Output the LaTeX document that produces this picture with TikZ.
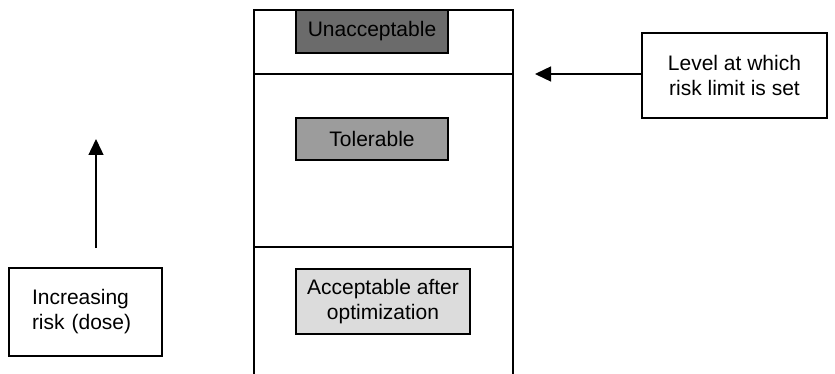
\documentclass[tikz,border=0pt]{standalone}
\usepackage{fontspec}
\setmainfont{Liberation Sans}
\usetikzlibrary{arrows.meta}
\definecolor{darkfill}{HTML}{6B6B6B}
\definecolor{midfill}{HTML}{9C9C9C}
\definecolor{lightfill}{HTML}{DCDCDC}
\begin{document}
\begin{tikzpicture}[x=1pt,y=-1pt,
  line width=1.4pt,
  every node/.style={font=\fontsize{21}{25}\selectfont},
  band/.style={draw, rectangle, inner sep=0pt, align=center},
  note/.style={draw, rectangle, inner sep=0pt},
  pointer/.style={-{Triangle[length=16pt,width=15pt]}, line width=1.4pt}]
  \useasboundingbox (0,0) rectangle (835,374);

  % the risk column and its band boundaries
  \draw (254,375) -- (254,10) -- (513,10) -- (513,375);
  \draw (254,74) -- (513,74);
  \draw (254,247) -- (513,247);

  % band labels
  \node[band, fill=darkfill, minimum width=152pt, minimum height=43pt] (unacc) at (372,31.5) {Unacceptable};
  \node[band, fill=midfill, minimum width=152pt, minimum height=42pt] (toler) at (372,139) {Tolerable};
  \node[band, fill=lightfill, minimum width=174pt, minimum height=65pt] (accept) at (383,301.5) {Acceptable after\\optimization};

  % explanatory boxes
  \node[note, align=center, minimum width=185pt, minimum height=85pt] (limit) at (734.5,75.5) {Level at which\\risk limit is set};
  \node[note, align=left, text width=107pt, inner xsep=23pt, minimum height=88pt] (risk) at (85.5,312) {Increasing\\risk (dose)};

  % arrows
  \coordinate (limitmark) at (535,74);
  \coordinate (risktail) at (96,248);
  \coordinate (risktip) at (96,139);
  \draw[pointer] (limit.west |- limitmark) -- (limitmark);
  \draw[pointer] (risktail) -- (risktip);
\end{tikzpicture}
\end{document}
